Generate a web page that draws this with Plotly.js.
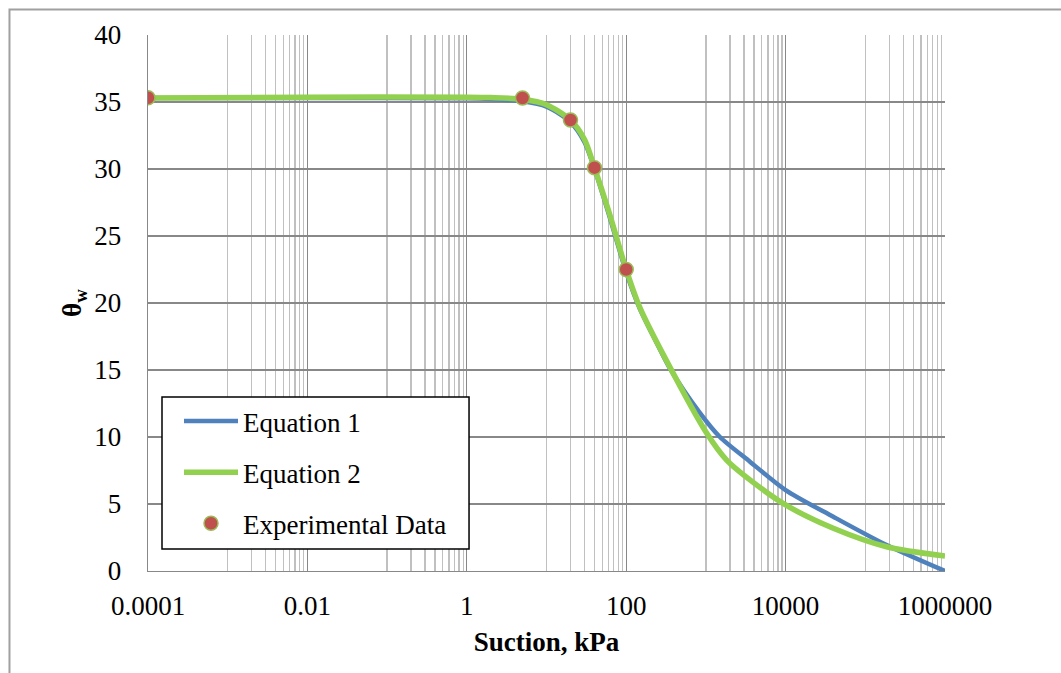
<!DOCTYPE html>
<html>
<head>
<meta charset="utf-8">
<script src="https://cdn.plot.ly/plotly-3.0.1.min.js"></script>
<style>html,body{margin:0;padding:0;background:#fff;}#chart{width:1061px;height:673px;}</style>
</head>
<body>
<div id="chart"></div>
<script>
// Equation 1 (blue)
const suctionEq1 = [0.0001, 0.01, 1, 2, 5, 10, 20, 30, 40, 60, 100, 150, 220, 355, 840, 1500, 3570, 10000, 39650, 185000, 1000000];
const thetaEq1   = [35.3, 35.3, 35.28, 35.22, 35.05, 34.65, 33.5, 32.0, 30.0, 26.7, 22.3, 19.5, 17.5, 15.1, 11.8, 10.0, 8.16, 6.04, 4.05, 1.94, 0.0];
// Equation 2 (green)
const suctionEq2 = [0.0001, 0.01, 1, 2, 5, 10, 20, 30, 40, 60, 100, 150, 320, 1020, 1820, 3570, 10000, 39650, 185000, 1000000];
const thetaEq2   = [35.3, 35.36, 35.36, 35.33, 35.2, 34.8, 33.65, 32.2, 30.1, 26.9, 22.5, 19.6, 15.7, 10.3, 8.28, 6.8, 4.93, 3.19, 1.81, 1.12];
// Experimental data
const suctionExp = [0.0001, 5, 20, 40, 100];
const thetaExp   = [35.32, 35.3, 33.66, 30.1, 22.5];
// Axis ticks
const xTickVals  = [0.0001, 0.01, 1, 100, 10000, 1000000];
const xTickText  = ['0.0001', '0.01', '1', '100', '10000', '1000000'];
const seriesNames = ['Equation 1', 'Equation 2', 'Experimental Data'];

// minor gridlines: base-100 log scale, minor unit = 10x major
const minorVals = [];
for (let i = 0; i < xTickVals.length - 1; i++) {
  for (let k = 1; k <= 9; k++) minorVals.push(xTickVals[i] * 10 * k);
}

const font = 'Liberation Serif, Times New Roman, serif';

const traces = [
  {x: suctionEq1, y: thetaEq1, name: seriesNames[0], mode: 'lines', type: 'scatter',
   line: {color: '#4F81BD', width: 4.5, shape: 'spline', smoothing: 0.8}, legendgroup: 'a'},
  {x: suctionEq2, y: thetaEq2, name: seriesNames[1], mode: 'lines', type: 'scatter',
   line: {color: '#92D050', width: 5.5, shape: 'spline', smoothing: 0.8}, legendgroup: 'b'},
  {x: suctionExp, y: thetaExp, name: seriesNames[2], mode: 'markers', type: 'scatter',
   marker: {color: '#C0504D', size: 14, line: {color: '#9BBB59', width: 1.5}}, legendgroup: 'c'}
];

const layout = {
  width: 1061, height: 673,
  margin: {l: 148, r: 116, t: 35, b: 102},
  paper_bgcolor: '#fff', plot_bgcolor: '#fff',
  font: {family: font, size: 27, color: '#000'},
  showlegend: true,
  legend: {
    x: 0.0389, y: 0.3246, xanchor: 'left', yanchor: 'top',
    bgcolor: 'rgba(0,0,0,0)', borderwidth: 0,
    font: {family: font, size: 27, color: '#000'},
    traceorder: 'grouped', tracegroupgap: 13, itemwidth: 54
  },
  xaxis: {
    type: 'log', range: [-4, 6],
    tickmode: 'array', tickvals: xTickVals, ticktext: xTickText,
    showgrid: true, gridcolor: '#888888', gridwidth: 1.3,
    minor: {tickmode: 'array', tickvals: minorVals, showgrid: true, gridcolor: '#c0c0c0', gridwidth: 1.3, ticks: ''},
    showline: true, linecolor: '#888888', linewidth: 1.3,
    ticks: '', ticklabelstandoff: 10,
    zeroline: false,
    tickfont: {family: font, size: 27, color: '#000'},
    title: {text: '<b>Suction, kPa</b>', font: {family: font, size: 27, color: '#000'}, standoff: 12}
  },
  yaxis: {
    range: [0, 40], dtick: 5, tick0: 0,
    showgrid: true, gridcolor: '#888888', gridwidth: 1.3,
    showline: true, linecolor: '#888888', linewidth: 1.3,
    ticks: '', ticklabelstandoff: 20,
    zeroline: false, automargin: true,
    tickfont: {family: font, size: 27, color: '#000'},
    title: {text: '<b>θ<sub>w</sub></b>', font: {family: font, size: 27, color: '#000'}, standoff: 4}
  },
  shapes: [
    {type: 'rect', xref: 'paper', yref: 'paper', x0: -0.1738, y0: 1.0476, x1: 1.3, y1: -0.3,
     line: {color: '#a0a0a0', width: 2}, fillcolor: 'rgba(0,0,0,0)', layer: 'below'},
    {type: 'rect', xref: 'paper', yref: 'paper', x0: 0.01757, y0: 0.3246, x1: 0.4028, y1: 0.041,
     line: {color: '#000', width: 1.5}, fillcolor: '#fff', layer: 'above'}
  ]
};

Plotly.newPlot('chart', traces, layout, {displayModeBar: false, staticPlot: true});
</script>
</body>
</html>
